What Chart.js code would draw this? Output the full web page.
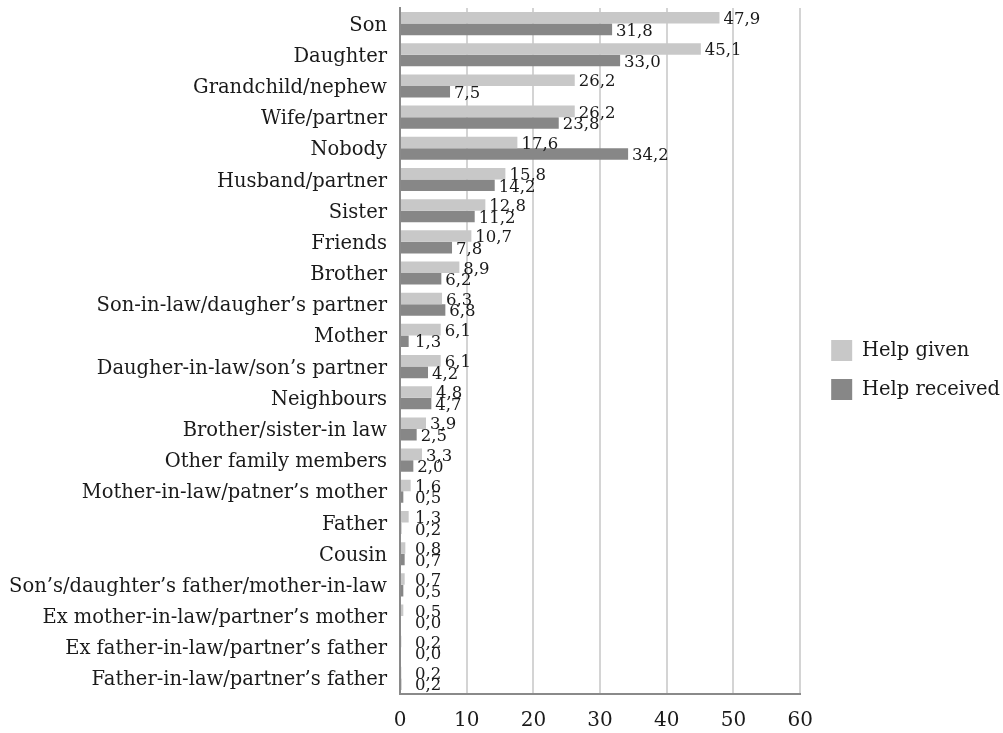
<!DOCTYPE html>
<html>
<head>
<meta charset="utf-8">
<script src="https://cdn.jsdelivr.net/npm/chart.js@4.4.1/dist/chart.umd.min.js"></script>
<style>
  html, body { margin: 0; padding: 0; background: #ffffff; }
  #wrap { width: 1003px; height: 733px; }
</style>
</head>
<body>
<div id="wrap"><canvas id="chart" width="1003" height="733"></canvas></div>
<script>
// Categories, top to bottom
const categories = [
  'Son', 'Daughter', 'Grandchild/nephew', 'Wife/partner', 'Nobody',
  'Husband/partner', 'Sister', 'Friends', 'Brother',
  'Son-in-law/daugher’s partner', 'Mother', 'Daugher-in-law/son’s partner',
  'Neighbours', 'Brother/sister-in law', 'Other family members',
  'Mother-in-law/patner’s mother', 'Father', 'Cousin',
  'Son’s/daughter’s father/mother-in-law', 'Ex mother-in-law/partner’s mother',
  'Ex father-in-law/partner’s father', 'Father-in-law/partner’s father'
];

const helpGiven = [47.9, 45.1, 26.2, 26.2, 17.6, 15.8, 12.8, 10.7, 8.9, 6.3, 6.1, 6.1, 4.8, 3.9, 3.3, 1.6, 1.3, 0.8, 0.7, 0.5, 0.2, 0.2];
const helpReceived = [31.8, 33.0, 7.5, 23.8, 34.2, 14.2, 11.2, 7.8, 6.2, 6.8, 1.3, 4.2, 4.7, 2.5, 2.0, 0.5, 0.2, 0.7, 0.5, 0.0, 0.0, 0.2];

const xTicks = [0, 10, 20, 30, 40, 50, 60];

const FONT = "'DejaVu Serif', serif";

// value labels at bar ends, decimal comma
// (short bars keep their label a little clear of the axis)
const valueLabels = {
  id: 'valueLabels',
  afterDatasetsDraw(chart) {
    const ctx = chart.ctx;
    const minX = chart.chartArea.left + 15;
    ctx.save();
    ctx.font = "16.5px " + FONT;
    ctx.fillStyle = '#1a1a1a';
    ctx.textBaseline = 'middle';
    ctx.textAlign = 'left';
    chart.data.datasets.forEach((ds, i) => {
      chart.getDatasetMeta(i).data.forEach((bar, j) => {
        const txt = ds.data[j].toFixed(1).replace('.', ',');
        ctx.fillText(txt, Math.max(bar.x + 4, minX), bar.y + 2);
      });
    });
    ctx.restore();
  }
};

new Chart(document.getElementById('chart'), {
  type: 'bar',
  data: {
    labels: categories,
    datasets: [
      { label: 'Help given', data: helpGiven, backgroundColor: '#c8c8c8' },
      { label: 'Help received', data: helpReceived, backgroundColor: '#878787' }
    ]
  },
  options: {
    indexAxis: 'y',
    responsive: false,
    animation: false,
    devicePixelRatio: 1,
    datasets: { bar: { categoryPercentage: 0.74, barPercentage: 1.0 } },
    layout: { padding: { top: 8, right: -7, left: 6, bottom: 1 } },
    scales: {
      x: {
        min: 0, max: 60,
        afterBuildTicks: (axis) => { axis.ticks = xTicks.map(v => ({ value: v })); },
        grid: { color: '#d4d4d4', lineWidth: 2, drawTicks: false },
        border: { color: '#8a8a8a', width: 2 },
        ticks: { color: '#1a1a1a', padding: 15, font: { family: FONT, size: 20 } },
        afterFit: (s) => { s.height = 38; }
      },
      y: {
        grid: { display: false, drawTicks: false },
        border: { color: '#8a8a8a', width: 2 },
        ticks: { color: '#1a1a1a', padding: 13, labelOffset: 2, autoSkip: false, font: { family: FONT, size: 19.5 } },
        afterFit: (s) => { s.width = 394; s.paddingTop = 0; s.paddingBottom = 0; }
      },
      // spacer between plot and legend
      gap: {
        type: 'linear', position: 'right', axis: 'y',
        grid: { display: false, drawTicks: false },
        border: { display: false },
        ticks: { display: false },
        afterFit: (s) => { s.width = 13; }
      }
    },
    plugins: {
      tooltip: { enabled: false },
      legend: {
        position: 'right',
        maxWidth: 260,
        labels: {
          boxWidth: 21, boxHeight: 21, padding: 18, color: '#1a1a1a',
          font: { family: FONT, size: 19.5 }
        }
      }
    }
  },
  plugins: [valueLabels]
});
</script>
</body>
</html>
